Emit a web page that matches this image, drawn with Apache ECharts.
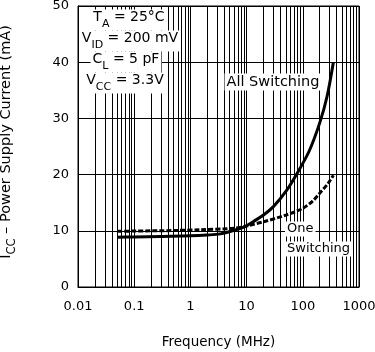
<!DOCTYPE html>
<html><head><meta charset="utf-8">
<script src="https://cdn.jsdelivr.net/npm/echarts@6/dist/echarts.min.js"></script>
<style>html,body{margin:0;padding:0;background:#fff}#c{width:375px;height:352px}</style>
</head><body><div id="c"></div>
<script>
// ---- data ----
const xTickLabels = ['0.01', '0.1', '1', '10', '100', '1000'];
const yTickValues = [0, 10, 20, 30, 40, 50];
const allSwitchingFreq =    [0.05, 0.1, 0.3, 1,   2,    3.4,  5.6,  8.7,  13,   20,   30,   50,   80,   130,  200,  270,  350];
const allSwitchingCurrent = [8.85, 8.9, 9.0, 9.1, 9.25, 9.45, 10.0, 10.6, 11.6, 12.8, 14.3, 17.0, 20.3, 24.2, 29.2, 33.9, 40.0];
const oneSwitchingFreq =    [0.05, 0.1,  0.5,   1.5,  5,    8.7,  11,    20,   50,   100,  150,  200,  280,  350];
const oneSwitchingCurrent = [9.9,  9.95, 10.05, 10.2, 10.4, 10.7, 10.95, 11.6, 12.8, 14.0, 15.3, 16.7, 18.4, 19.9];

const FONT = 'DejaVu Sans';
const toPairs = (xs, ys) => xs.map((x, i) => [x, ys[i]]);

// minor log gridlines (2..9 within each decade)
const minorGrid = [];
for (let d = -2; d < 3; d++) {
  for (let k = 2; k <= 9; k++) minorGrid.push({ xAxis: k * Math.pow(10, d) });
}

const chart = echarts.init(document.getElementById('c'), null, { renderer: 'canvas' });

const mainTxt = { fontFamily: FONT, fontSize: 14, color: '#000', verticalAlign: 'bottom', padding: [0, 0, 5, 0] };
const subTxt = { fontFamily: FONT, fontSize: 11, color: '#000', verticalAlign: 'bottom', padding: [0, 0, 0, 0] };

function annot(x, y, text, rich, size, align) {
  return {
    type: 'text', x: x, y: y, z: 100,
    style: {
      text: text, align: align || 'center', verticalAlign: 'middle',
      fontFamily: FONT, fontSize: size || 14, fill: '#000',
      backgroundColor: '#fff', padding: [1, 2, 1, 2],
      rich: rich
    }
  };
}
const richSub = { m: mainTxt, s: subTxt };

chart.setOption({
  animation: false,
  backgroundColor: '#fff',
  grid: { left: 78, right: 16, top: 6, bottom: 65, show: true, borderColor: '#000', borderWidth: 1, outerBoundsMode: 'none', containLabel: false },
  xAxis: {
    type: 'log', logBase: 10, min: 0.01, max: 1000,
    name: 'Frequency (MHz)', nameLocation: 'middle', nameGap: 48,
    nameTextStyle: { fontFamily: FONT, fontSize: 13.5, color: '#000' },
    axisLine: { show: true, lineStyle: { color: '#000', width: 1 } },
    axisTick: { show: false },
    axisLabel: {
      fontFamily: FONT, fontSize: 13, color: '#000', margin: 13,
      formatter: function (v) {
        const i = Math.round(Math.log10(v)) + 2;
        return xTickLabels[i] !== undefined ? xTickLabels[i] : '';
      }
    },
    splitLine: { show: true, lineStyle: { color: '#000', width: 1 } },
    minorTick: { show: false }
  },
  yAxis: {
    type: 'value', min: 0, max: 50, interval: 10,
    name: '{m|I}{s|CC}{m| – Power Supply Current (mA)}',
    nameLocation: 'middle', nameGap: 60, nameRotate: 90,
    nameTextStyle: {
      fontFamily: FONT, fontSize: 14.5, color: '#000', padding: [0, 0, 0, 9],
      rich: {
        m: { fontFamily: FONT, fontSize: 14.5, color: '#000', verticalAlign: 'bottom', padding: [0, 0, 4, 0] },
        s: { fontFamily: FONT, fontSize: 11.5, color: '#000', verticalAlign: 'bottom' }
      }
    },
    axisLine: { show: true, lineStyle: { color: '#000', width: 1 } },
    axisTick: { show: false },
    axisLabel: {
      fontFamily: FONT, fontSize: 13, color: '#000', margin: 9,
      formatter: function (v) { return yTickValues.indexOf(v) >= 0 ? String(v) : ''; }
    },
    splitLine: { show: true, lineStyle: { color: '#000', width: 1 } }
  },
  series: [
    {
      name: 'grid', type: 'line', data: [], silent: true,
      markLine: {
        silent: true, symbol: 'none', animation: false,
        label: { show: false },
        lineStyle: { color: '#000', width: 1, type: 'solid' },
        emphasis: { disabled: true },
        data: minorGrid
      }
    },
    {
      name: 'All Switching', type: 'line', smooth: 0.3, showSymbol: false, z: 5,
      lineStyle: { color: '#000', width: 3 },
      data: toPairs(allSwitchingFreq, allSwitchingCurrent)
    },
    {
      name: 'One Switching', type: 'line', smooth: 0.3, showSymbol: false, z: 5,
      lineStyle: { color: '#000', width: 3, type: [5, 2] },
      data: toPairs(oneSwitchingFreq, oneSwitchingCurrent)
    }
  ],
  graphic: [
    annot(129, 20, '{m|T}{s|A}{m| = 25°C}', richSub),
    annot(130, 41, '{m|V}{s|ID}{m| = 200 mV}', richSub),
    annot(126, 62, '{m|C}{s|L}{m| = 5 pF}', richSub),
    annot(125, 83, '{m|V}{s|CC}{m| = 3.3V}', richSub),
    annot(273, 82, 'All Switching', null, 14.5),
    annot(285, 229, 'One', null, 13, 'left'),
    annot(285, 249, 'Switching', null, 13, 'left')
  ]
});
</script>
</body></html>
